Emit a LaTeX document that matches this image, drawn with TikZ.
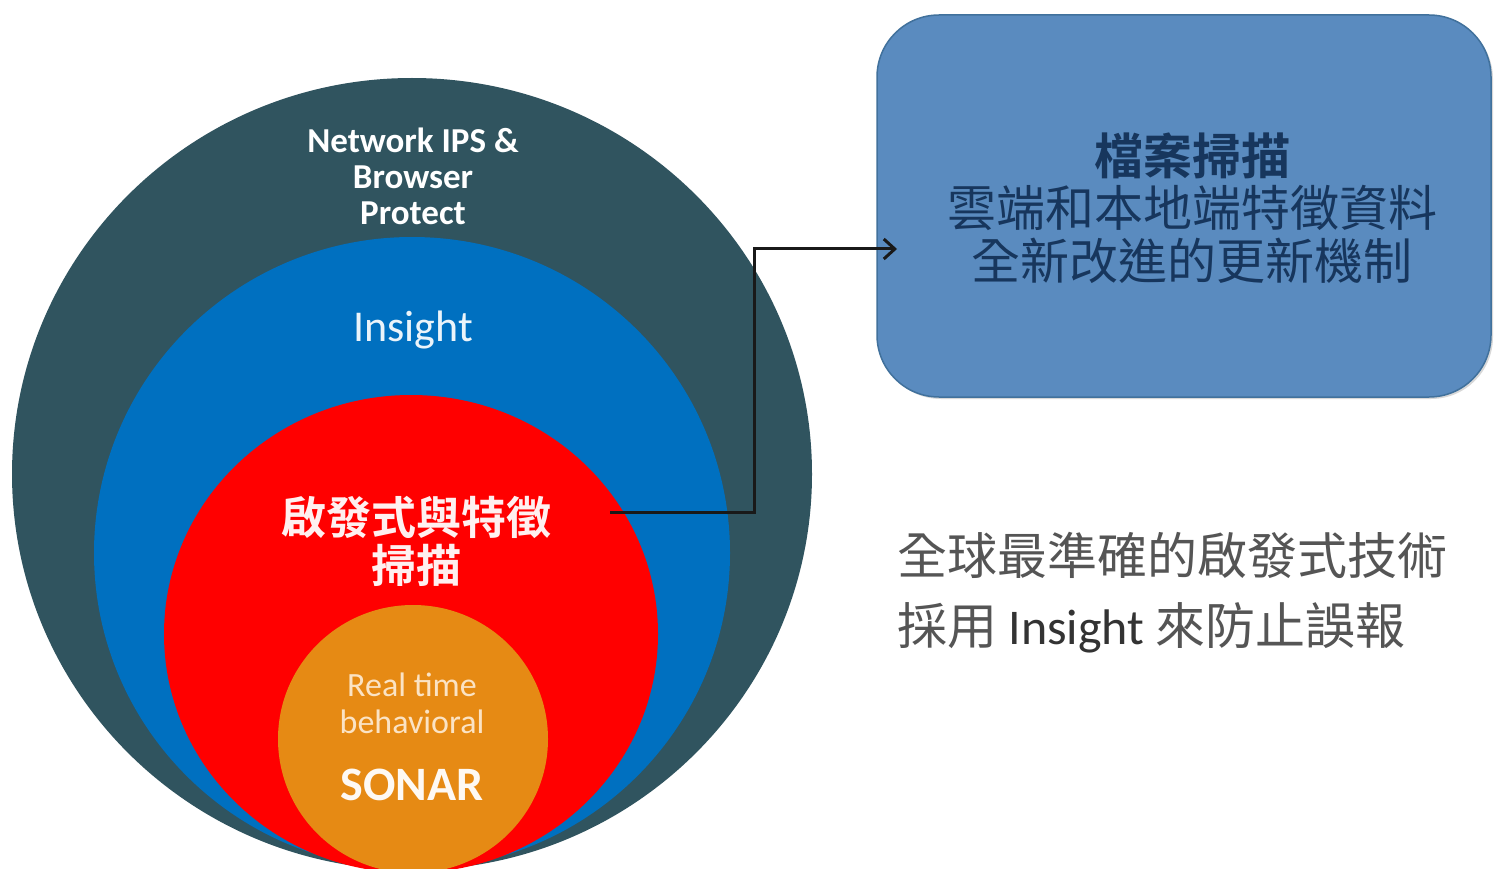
\documentclass[tikz,border=0pt]{standalone}
\usepackage{fontspec}
\setmainfont{Carlito}
\newfontfamily\cjk{Noto Sans CJK TC}[BoldFont={Noto Sans CJK TC Bold}]
\usetikzlibrary{arrows.meta,shadows,shapes.geometric}
\definecolor{outerc}{HTML}{30545F}
\definecolor{bluec}{HTML}{0070C0}
\definecolor{redc}{HTML}{FF0000}
\definecolor{orangec}{HTML}{E68A14}
\definecolor{boxfill}{HTML}{5A8BBF}
\definecolor{boxline}{HTML}{41719C}
\definecolor{boxtext}{HTML}{17365D}
\definecolor{graytext}{HTML}{555555}
\definecolor{peach}{HTML}{FBE3C4}
\tikzset{
  ring/.style={ellipse,inner sep=0pt,draw=none},
  wlabel/.style={align=center,inner sep=0pt},
}
\begin{document}
\begin{tikzpicture}[x=1pt,y=-1pt]
\useasboundingbox (0,0) rectangle (1494,869);
\fill[white] (0,0) rectangle (1494,869);
\begin{scope}
\clip (0,0) rectangle (1494,869);
\node[ring,fill=outerc,minimum width=800pt,minimum height=792pt] (outer) at (412,474) {};
\node[ring,fill=bluec,minimum width=636pt,minimum height=632pt] (blue) at (412,553) {};
\node[ring,fill=redc,minimum width=494pt,minimum height=478pt] (red) at (411,634) {};
\node[ring,fill=orangec,minimum width=270pt,minimum height=268pt] (orange) at (413,739) {};
\end{scope}

\node[wlabel,text=white,font=\bfseries\fontsize{35}{36}\selectfont] (net) at (413,176) {Network IPS \&\\Browser\\Protect};
\node[wlabel,text=white!92!bluec,font=\fontsize{44}{50}\selectfont] (ins) at (413,330) {Insight};
\node[wlabel,text=white!94!redc,font=\cjk\bfseries\fontsize{45}{48}\selectfont] (heur) at (416,541) {啟發式與特徵\\掃描};
\node[wlabel,text=peach,font=\fontsize{34}{37}\selectfont] (rt) at (412,703) {Real time\\behavioral};
\node[wlabel,text=white!95!orangec,font=\bfseries\fontsize{48}{50}\selectfont] (sonar) at (412,785) {SONAR};

\node[draw=boxline,line width=1.5pt,fill=boxfill,rounded corners=62pt,
      minimum width=614pt,minimum height=382pt,inner sep=0pt,
      drop shadow={shadow xshift=2pt,shadow yshift=-2pt,opacity=0.3}] (box) at (1184,206) {};
\node[wlabel,text=boxtext,font=\cjk\fontsize{49}{52.5}\selectfont] (boxtxt) at (1192,208)
  {{\bfseries 檔案掃描}\\雲端和本地端特徵資料\\全新改進的更新機制};

\node[anchor=west,inner sep=0pt,text=graytext,font=\cjk\fontsize{50}{52}\selectfont] (l1) at (897,555) {全球最準確的啟發式技術};
\node[anchor=west,inner sep=0pt,text=graytext,font=\cjk\fontsize{50}{52}\selectfont] (l2) at (897,628) {採用 {\rmfamily\color{black!80}Insight} 來防止誤報};

\coordinate (src) at (610,512);
\coordinate (dst) at (897,249);
\draw[line width=3pt,black!90,-{Straight Barb[length=11pt,width=20pt,line width=3pt]}]
  (src) -| (754,249) -- (dst);
\end{tikzpicture}
\end{document}
